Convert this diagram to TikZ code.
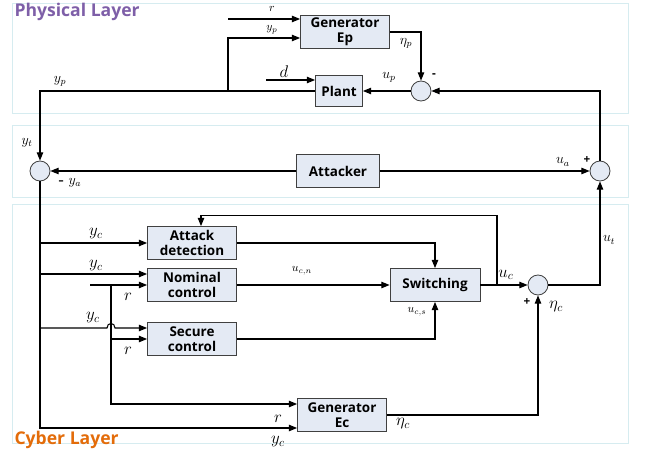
\documentclass[tikz,border=0pt]{standalone}
\usepackage{fontspec}
\usepackage{tikz}
\usetikzlibrary{arrows.meta,calc,positioning}
\newfontfamily\blockfont{Open Sans}
\definecolor{blockfill}{HTML}{E4EAF4}
\definecolor{layerline}{HTML}{D6ECF0}
\definecolor{physcol}{HTML}{7E5FA8}
\definecolor{cybercol}{HTML}{E36C0A}

\begin{document}
\begin{tikzpicture}[
    x=0.03cm, y=-0.03cm,
    >={Triangle[length=7pt,width=5.5pt]},
    every path/.style={line width=0.9pt},
    block/.style={draw=black!75, line width=0.7pt, fill=blockfill, align=center, inner sep=0pt,
        minimum width=2.67cm, minimum height=0.99cm, font=\blockfont\bfseries\fontsize{11.5}{12.5}\selectfont},
    sum/.style={draw=black!75, line width=0.7pt, fill=blockfill, circle, minimum size=0.6cm, inner sep=0pt},
    layer/.style={draw=layerline, line width=0.8pt},
    lbl/.style={inner sep=0pt, font=\large},
    smalllbl/.style={inner sep=0pt, font=\normalsize},
    biglbl/.style={inner sep=0pt, font=\Large},
    sign/.style={inner sep=0pt, font=\blockfont\bfseries},
    title/.style={anchor=west, inner sep=0pt, font=\blockfont\bfseries\fontsize{15}{17}\selectfont}
  ]
    \useasboundingbox (0,0) rectangle (648,452);

    % Layers
    \draw[layer] (12,3) rectangle (628,113);
    \draw[layer] (12,125) rectangle (628,197);
    \draw[layer] (12,204) rectangle (628,443);
    \node[title, text=physcol] (phystitle) at (14,12) {Physical Layer};
    \node[title, text=cybercol] (cybtitle) at (14,440) {Cyber Layer};

    % Nodes
    \node[block] (gep) at (345,32) {Generator\\Ep};
    \node[block, minimum width=1.41cm, minimum height=0.93cm] (plant) at (339,91) {Plant};
    \node[sum] (sp) at (421,91) {};
    \node[block, minimum width=2.49cm] (att) at (338,171) {Attacker};
    \node[sum] (sl) at (40,171) {};
    \node[sum] (sr) at (600,171) {};
    \node[block] (det) at (192,243) {Attack\\detection};
    \node[block] (nom) at (192,285) {Nominal\\control};
    \node[block] (sec) at (192,339) {Secure\\control};
    \node[block, minimum width=2.7cm] (sw) at (435,285) {Switching};
    \node[sum] (sc) at (538,285) {};
    \node[block] (gec) at (342,415) {Generator\\Ec};

    % free ends and branch points
    \coordinate (rsrc) at (228,19);
    \coordinate (jyp) at (228,91);
    \coordinate (dsrc) at (266,80);
    \coordinate (rnom) at (90,285);
    \coordinate (jr) at (111,285);
    \coordinate (jd) at (497,285);
    \coordinate (nomyc) at ($(nom.west)+(0,-11)$);
    \coordinate (secyc) at ($(sec.west)+(0,-11)$);
    \coordinate (dettop) at ($(det.north)+(9,0)$);

    % Edges, physical side
    \draw[->] (rsrc) -- (gep.west |- rsrc);
    \draw[->] (jyp) |- ($(gep.west)+(0,6)$);
    \draw[->] (gep.east) -| (sp.north);
    \draw[->] (dsrc) -- (plant.west |- dsrc);
    \draw[->] (sp) -- (plant);
    \draw[->] (plant.west) -| (sl.north);
    \draw[->] (sr.north) |- (sp.east);
    \draw[->] (att) -- (sl);
    \draw[->] (att) -- (sr);

    % Edges, cyber side
    \draw[->] (sl.south) |- ($(gec.west)+(0,13)$);
    \draw[->] (sl.south |- det.west) -- (det.west);
    \draw[->] (sl.south |- nomyc) -- (nomyc);
    \draw[->] (sl.south |- secyc) -- ($(jr |- secyc)+(-4,0)$)
        .. controls +(0,-6) and +(0,-6) .. ($(jr |- secyc)+(4,0)$) -- (secyc);
    \draw[->] (rnom) -- (nom.west);
    \draw[->] (jr) |- ($(gec.west)+(0,-11)$);
    \draw[->] (jr |- sec.west) -- (sec.west);
    \draw[->] (det.east) -| (sw.north);
    \draw[->] (nom) -- (sw);
    \draw[->] (sec.east) -| (sw.south);
    \draw[->] (sw) -- (sc);
    \draw[->] (jd) |- ($(dettop)+(0,-11)$) -- (dettop);
    \draw[->] (sc.east) -| (sr.south);
    \draw[->] (gec.east) -| (sc.south);

    % Signal labels
    \node[smalllbl] (lr1) at (272,9) {$r$};
    \node[smalllbl] (lyp1) at (272,30) {$y_p$};
    \node[lbl] (letap) at (406,43) {$\eta_p$};
    \node[sign] (lminp) at (434,76) {-};
    \node[biglbl] (ld) at (284,72) {$d$};
    \node[lbl] (lup) at (389,77) {$u_p$};
    \node[lbl] (lyp2) at (60,81) {$y_p$};
    \node[lbl] (lyt) at (27,143) {$y_t$};
    \node[lbl] (lya) at (70,183) {\textbf{-} $y_a$};
    \node[lbl] (lua) at (563,162) {$u_a$};
    \node[sign] (lplusa) at (587,160) {+};
    \node[biglbl] (lyc1) at (96,234) {$y_c$};
    \node[biglbl] (lyc2) at (96,266) {$y_c$};
    \node[biglbl] (lr2) at (128,297) {$r$};
    \node[biglbl] (lyc3) at (93,318) {$y_c$};
    \node[biglbl] (lr3) at (128,351) {$r$};
    \node[smalllbl] (lucn) at (302,271) {$u_{c,n}$};
    \node[smalllbl] (lucs) at (417,312) {$u_{c,s}$};
    \node[biglbl] (luc) at (506,275) {$u_c$};
    \node[lbl] (lut) at (609,240) {$u_t$};
    \node[sign] (lplusc) at (527,302) {+};
    \node[biglbl] (letac1) at (556,307) {$\eta_c$};
    \node[biglbl] (lr4) at (278,419) {$r$};
    \node[biglbl] (lyc4) at (278,442) {$y_c$};
    \node[biglbl] (letac2) at (403,424) {$\eta_c$};

\end{tikzpicture}
\end{document}
